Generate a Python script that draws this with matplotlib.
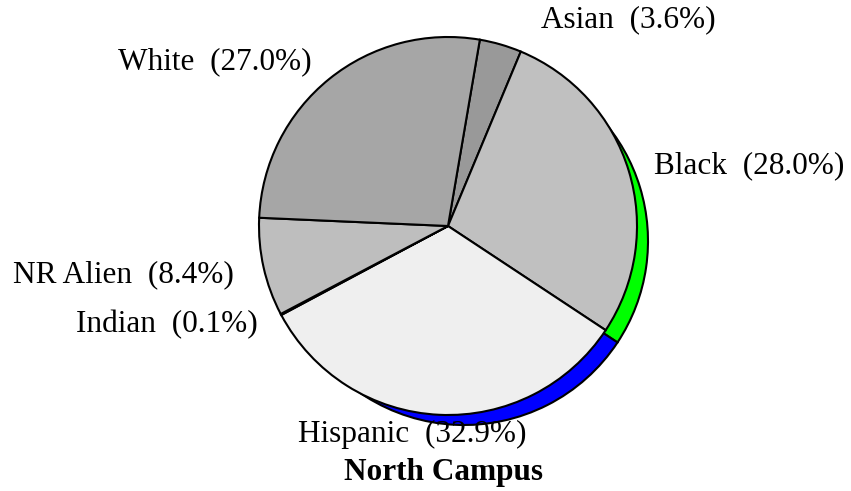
import numpy as np
import matplotlib
matplotlib.use("Agg")
import matplotlib.pyplot as plt

# DATA
groups  = ["Asian", "Black", "Hispanic", "Indian", "NR Alien", "White"]
percent = [3.6, 28.0, 32.9, 0.1, 8.4, 27.0]
title   = "North Campus"

# STYLE
W, H       = 851, 491
CX, CY     = 448, 226          # pie centre (px, from top)
RADIUS     = 189
SHADOW_DX  = 16                # depth offset of the coloured rim
SHADOW_DY  = 15
SHADOW_R   = 184
START      = 80.3
face_cols   = ["#999999", "#c0c0c0", "#efefef", "#d8d860", "#bebebe", "#a6a6a6"]
shadow_cols = ["#999999", "#00ff00", "#0000ff", "#d8d860", "#bebebe", "#a6a6a6"]
# label anchor: left x, baseline y (px from top)
label_pos = [(541, 27), (654, 173), (298, 442), (76, 332), (13, 282), (118, 69)]
FONT = "Liberation Serif"
FS   = 22.5

fig = plt.figure(figsize=(W / 100, H / 100), dpi=100)
ax = fig.add_axes([0, 0, 1, 1])

def flip(y):
    return H - y

wp = dict(edgecolor="black", linewidth=1.5)
# coloured rim behind, then the main pie on top
ax.pie(percent, colors=shadow_cols, startangle=START, counterclock=False,
       radius=SHADOW_R, center=(CX + SHADOW_DX, flip(CY + SHADOW_DY)),
       wedgeprops=wp)
ax.pie(percent, colors=face_cols, startangle=START, counterclock=False,
       radius=RADIUS, center=(CX, flip(CY)), wedgeprops=wp)

ax.set_xlim(0, W)
ax.set_ylim(0, H)
ax.set_aspect("equal")
ax.axis("off")

for name, v, (x, y) in zip(groups, percent, label_pos):
    ax.text(x, flip(y), f"{name}  ({v:.1f}%)", ha="left", va="baseline",
            fontsize=FS, family=FONT, zorder=10)

ax.text(444, flip(480), title, ha="center", va="baseline", fontsize=FS,
        family=FONT, fontweight="bold", zorder=10)

fig.savefig("out.png", dpi=100)
